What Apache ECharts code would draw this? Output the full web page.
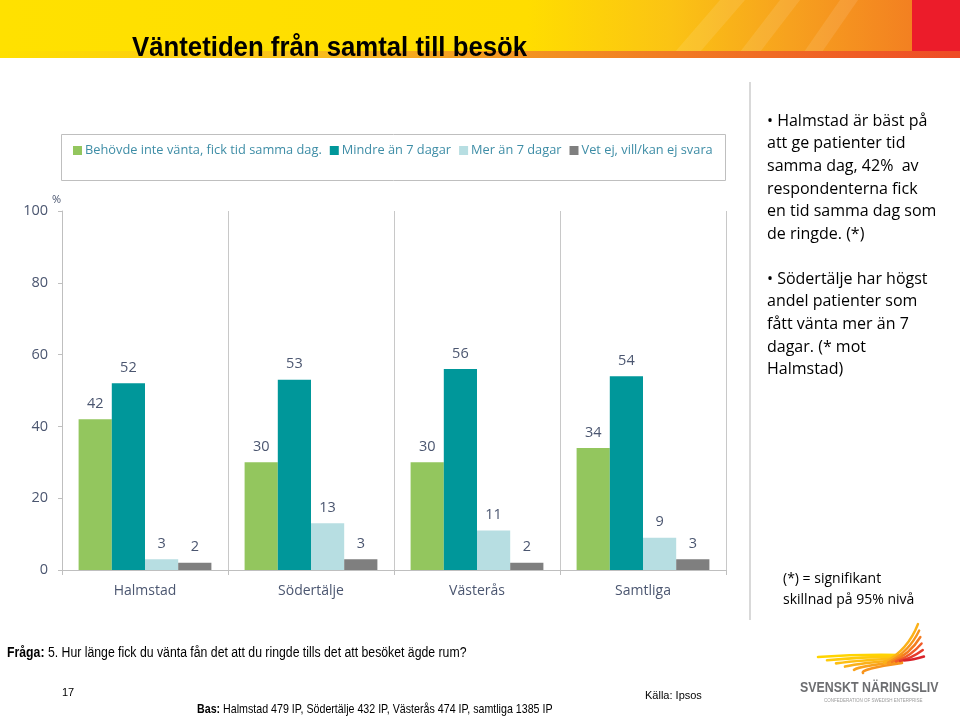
<!DOCTYPE html>
<html>
<head>
<meta charset="utf-8">
<script src="https://cdn.jsdelivr.net/npm/echarts@6/dist/echarts.min.js"></script>
<style>
html,body{margin:0;padding:0;background:#fff;}
#c{width:960px;height:717px;}
</style>
</head>
<body>
<div id="c"></div>
<script>
const categories = ['Halmstad', 'Södertälje', 'Västerås', 'Samtliga'];
const seriesNames = ['Behövde inte vänta, fick tid samma dag.', 'Mindre än 7 dagar', 'Mer än 7 dagar', 'Vet ej, vill/kan ej svara'];
const sameDay = [42, 30, 30, 34];
const under7 = [52, 53, 56, 54];
const over7 = [3, 13, 11, 9];
const dontKnow = [2, 3, 2, 3];
const yTicks = [0, 20, 40, 60, 80, 100];

const colors = ['#93C65E', '#00979A', '#B7DEE2', '#7F7F7F'];
const labelColor = '#4B5670';
const valuesList = [sameDay, under7, over7, dontKnow];

const chart = echarts.init(document.getElementById('c'), null, {renderer: 'canvas'});

const graphics = [
  // banner
  {type:'rect', shape:{x:0,y:0,width:960,height:52}, style:{fill:new echarts.graphic.LinearGradient(0,0,1,0,[
    {offset:0,color:'#FFE100'},{offset:0.55,color:'#FFDD00'},{offset:0.7,color:'#FBC314'},{offset:0.82,color:'#F7A21E'},{offset:0.95,color:'#F38021'},{offset:1,color:'#F37A21'}])}, silent:true},
  {type:'polygon', shape:{points:[[720,0],[745,0],[700,52],[675,52]]}, style:{fill:'rgba(255,255,255,0.10)'}},
  {type:'polygon', shape:{points:[[780,0],[800,0],[760,52],[740,52]]}, style:{fill:'rgba(255,255,255,0.10)'}},
  {type:'polygon', shape:{points:[[840,0],[858,0],[822,52],[804,52]]}, style:{fill:'rgba(255,255,255,0.10)'}},
  {type:'rect', shape:{x:912,y:0,width:48,height:52}, style:{fill:'#EC1C2A'}},
  {type:'rect', shape:{x:0,y:51,width:960,height:7}, style:{fill:new echarts.graphic.LinearGradient(0,0,1,0,[
    {offset:0,color:'#FFE000'},{offset:0.3,color:'#F9C21A'},{offset:0.5,color:'#F39B21'},{offset:1,color:'#EE4B26'}])}},
  {type:'text', x:132, y:34, scaleX:0.92, style:{text:'Väntetiden från samtal till besök', font:'bold 28px "Liberation Sans", sans-serif', fill:'#000'}},
  // legend box
  {type:'rect', shape:{x:61.5,y:134.5,width:664,height:46}, style:{fill:'none', stroke:'#BFBFBF', lineWidth:1}},
  // percent sign
  {type:'text', left:52, top:194, style:{text:'%', font:'11px "Open Sans", sans-serif', fill:labelColor}},
  // divider
  {type:'rect', shape:{x:749,y:82,width:2,height:538}, style:{fill:'#D9D9D9'}},
  // right text
  {type:'text', left:767, top:110, style:{text:'• Halmstad är bäst på\natt ge patienter tid\nsamma dag, 42%  av\nrespondenterna fick\nen tid samma dag som\nde ringde. (*)', font:'16px "Open Sans", sans-serif', lineHeight:22.6, fill:'#000'}},
  {type:'text', left:767, top:268, style:{text:'• Södertälje har högst\nandel patienter som\nfått vänta mer än 7\ndagar. (* mot\nHalmstad)', font:'16px "Open Sans", sans-serif', lineHeight:22.6, fill:'#000'}},
  {type:'text', left:783, top:569, style:{text:'(*) = signifikant\nskillnad på 95% nivå', font:'14px "Open Sans", sans-serif', lineHeight:21, fill:'#000'}},
  // bottom
  {type:'text', x:7, y:646, scaleX:0.876, style:{rich:{b:{font:'bold 14px "Liberation Sans", sans-serif', fill:'#000'}, n:{font:'14px "Liberation Sans", sans-serif', fill:'#000'}}, text:'{b|Fråga:}{n| 5. Hur länge fick du vänta fån det att du ringde tills det att besöket ägde rum?}'}},
  {type:'text', x:62, y:687, style:{text:'17', font:'11px "Liberation Sans", sans-serif', fill:'#000'}},
  {type:'text', x:645, y:690, style:{text:'Källa: Ipsos', font:'11px "Liberation Sans", sans-serif', fill:'#000'}},
  {type:'text', x:197, y:703, scaleX:0.82, style:{rich:{b:{font:'bold 13px "Liberation Sans", sans-serif', fill:'#000'}, n:{font:'13px "Liberation Sans", sans-serif', fill:'#000'}}, text:'{b|Bas:}{n| Halmstad 479 IP, Södertälje 432 IP, Västerås 474 IP, samtliga 1385 IP}'}},
  // logo text
  {type:'text', x:800, y:680, scaleX:0.8, style:{text:'SVENSKT NÄRINGSLIV', font:'bold 15.5px "Liberation Sans", sans-serif', fill:'#6D6E71'}},
  {type:'text', x:824, y:698, style:{text:'CONFEDERATION OF SWEDISH ENTERPRISE', font:'4.5px "Liberation Sans", sans-serif', fill:'#9A9A9A'}}
];
// logo wing: left feathers
const leftCols = ['#FFD400','#FFCB0A','#FDBE12','#FBB118','#F9A21C','#F7941D'];
for (let k = 0; k < 6; k++) {
  graphics.push({type:'bezierCurve', shape:{x1:902, y1:655 + k*1.6, x2:818 + k*9, y2:657 + k*3.2, cpx1:860, cpy1:654 + k*3}, style:{stroke:leftCols[k], lineWidth:2.6, fill:'none', lineCap:'round'}});
}
// upper-right feathers
const upCols = ['#FBB118','#F7941D','#F47B20','#F05A28','#E63A2B','#D9232B'];
for (let k = 0; k < 6; k++) {
  graphics.push({type:'bezierCurve', shape:{x1:884 + k*4, y1:663 - k*0.5, x2:918 + k*1.2, y2:624 + k*6.5, cpx1:908 + k*1, cpy1:650 + k*2}, style:{stroke:upCols[k], lineWidth:2.4, fill:'none', lineCap:'round'}});
}

chart.setOption({
  animation: false,
  textStyle: {fontFamily: '"Open Sans", sans-serif'},
  color: colors,
  legend: {
    data: seriesNames,
    left: 68, top: 139,
    itemWidth: 9, itemHeight: 9, itemGap: 8,
    icon: 'rect',
    textStyle: {color: '#3E8DA6', fontSize: 12.8, fontFamily: '"Open Sans", sans-serif', padding: [0,0,0,-2]}
  },
  grid: {left: 62, right: 234, top: 211, bottom: 147},
  xAxis: {
    type: 'category',
    data: categories,
    axisLine: {lineStyle: {color: '#BFBFBF'}},
    axisTick: {show: true, length: 5, lineStyle: {color: '#BFBFBF'}},
    splitLine: {show: true, lineStyle: {color: '#C8C8C8', width: 1}},
    axisLabel: {color: labelColor, fontSize: 14, margin: 14}
  },
  yAxis: {
    type: 'value',
    min: 0, max: 100, interval: 20,
    axisLine: {show: true, lineStyle: {color: '#BFBFBF'}},
    axisTick: {show: true, length: 4, lineStyle: {color: '#BFBFBF'}},
    splitLine: {show: false},
    axisLabel: {color: labelColor, fontSize: 14.5, margin: 14,
      formatter: v => yTicks.includes(v) ? String(v) : ''}
  },
  series: seriesNames.map((name, i) => ({
    name: name,
    type: 'bar',
    data: valuesList[i],
    barGap: '0%',
    barCategoryGap: '20%',
    itemStyle: {color: colors[i]},
    label: {show: true, position: 'top', distance: 8, color: labelColor, fontSize: 14.5}
  })),
  graphic: graphics
});
</script>
</body>
</html>
